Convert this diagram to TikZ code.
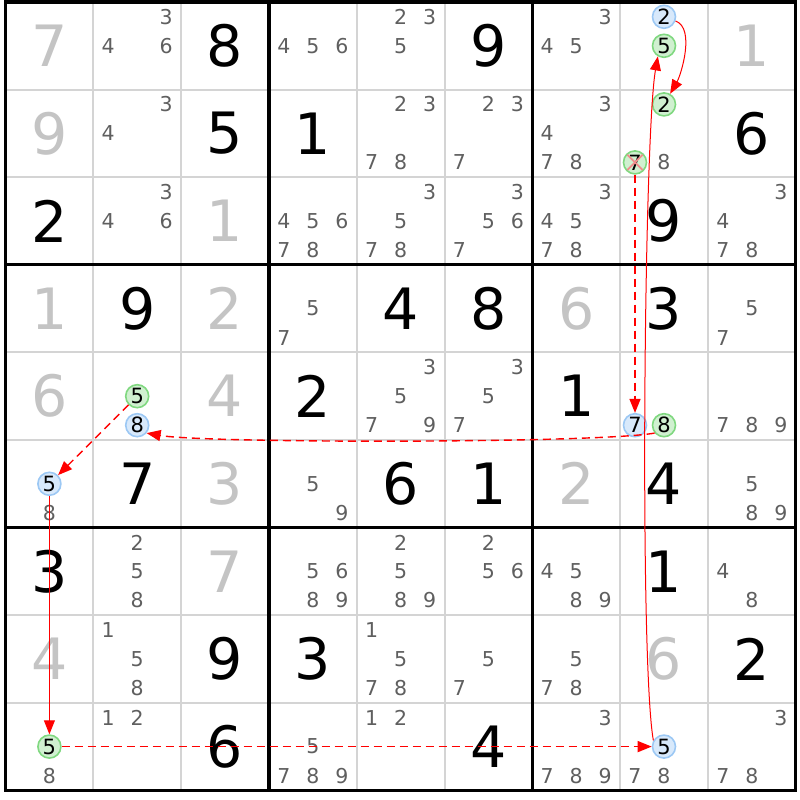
\documentclass[tikz,border=0pt]{standalone}
\usepackage{fontspec}
\setmainfont{DejaVu Sans}
\usetikzlibrary{arrows.meta}

\definecolor{candgray}{HTML}{5F5F5F}
\definecolor{solvedgray}{HTML}{C4C4C4}
\definecolor{gridgray}{HTML}{D4D4D4}
\definecolor{ringgreen}{HTML}{80D880}
\definecolor{fillgreen}{HTML}{D0F0D0}
\definecolor{ringblue}{HTML}{9CC8F4}
\definecolor{fillblue}{HTML}{D8E9FB}
\definecolor{crossred}{HTML}{F08C8C}

% cell centres, in px of the 800x800 sheet (y up)
\newcommand{\cellX}[1]{5.5+(#1-0.5)*87.8}
\newcommand{\cellY}[1]{798-(#1-0.5)*87.6}

\begin{document}
\begin{tikzpicture}[x=1pt,y=1pt,
    given/.style={font=\fontsize{57}{60}\selectfont,inner sep=0pt},
    solved/.style={given,text=solvedgray},
    cand/.style={font=\fontsize{20.5}{24}\selectfont,inner sep=0pt,text=candgray},
    ring/.style={circle,draw=ring#1,fill=fill#1,line width=1.6pt,inner sep=0pt,
                 minimum size=23pt,font=\fontsize{21}{24}\selectfont},
    thinrule/.style={gridgray,line width=2pt},
    boxrule/.style={black,line width=3.2pt},
    link/.style={red,line width=1pt,-{Triangle[length=14pt,width=11pt]}},
    weak/.style={red,line width=1.4pt,dash pattern=on 8pt off 5pt,
                 -{Triangle[length=14pt,width=11pt]}},
    cross/.style={crossred,line width=1.8pt,shorten >=1.5pt,shorten <=1.5pt}]

  \useasboundingbox (0,0) rectangle (800,800);

  % grid
  \foreach \i in {1,2,4,5,7,8} {
    \draw[thinrule] ({5.5+\i*87.8},798) -- ({5.5+\i*87.8},9.6);
    \draw[thinrule] (5.5,{798-\i*87.6}) -- (795.7,{798-\i*87.6});
  }
  \foreach \i in {0,3,6,9} {
    \draw[boxrule] ({5.5+\i*87.8},799.6) -- ({5.5+\i*87.8},8);
    \draw[boxrule] (4,{798-\i*87.6}) -- (797.3,{798-\i*87.6});
  }

  % clues and placed digits
  \foreach \r/\c/\d in {1/3/8, 1/6/9, 2/3/5, 2/4/1, 2/9/6, 3/1/2, 3/8/9, 4/2/9,
                        4/5/4, 4/6/8, 4/8/3, 5/4/2, 5/7/1, 6/2/7, 6/5/6, 6/6/1,
                        6/8/4, 7/1/3, 7/8/1, 8/3/9, 8/4/3, 8/9/2, 9/3/6, 9/6/4}
    \node[given] (cell-\r\c) at ({\cellX{\c}},{\cellY{\r}}) {\d};
  \foreach \r/\c/\d in {1/1/7, 1/9/1, 2/1/9, 3/3/1, 4/1/1, 4/3/2, 4/7/6, 5/1/6,
                        5/3/4, 6/3/3, 6/7/2, 7/3/7, 8/1/4, 8/8/6}
    \node[solved] (cell-\r\c) at ({\cellX{\c}},{\cellY{\r}}) {\d};

  % pencil marks
  \foreach \r/\c/\ds in {1/2/{3,4,6}, 1/4/{4,5,6}, 1/5/{2,3,5}, 1/7/{3,4,5},
      2/2/{3,4}, 2/5/{2,3,7,8}, 2/6/{2,3,7}, 2/7/{3,4,7,8}, 2/8/{8},
      3/2/{3,4,6}, 3/4/{4,5,6,7,8}, 3/5/{3,5,7,8}, 3/6/{3,5,6,7},
      3/7/{3,4,5,7,8}, 3/9/{3,4,7,8}, 4/4/{5,7}, 4/9/{5,7},
      5/5/{3,5,7,9}, 5/6/{3,5,7}, 5/9/{7,8,9}, 6/1/{8}, 6/4/{5,9}, 6/9/{5,8,9},
      7/2/{2,5,8}, 7/4/{5,6,8,9}, 7/5/{2,5,8,9}, 7/6/{2,5,6}, 7/7/{4,5,8,9},
      7/9/{4,8}, 8/2/{1,5,8}, 8/5/{1,5,7,8}, 8/6/{5,7}, 8/7/{5,7,8},
      9/1/{8}, 9/2/{1,2}, 9/4/{5,7,8,9}, 9/5/{1,2}, 9/7/{3,7,8,9},
      9/8/{7,8}, 9/9/{3,7,8}}
    \foreach \d in \ds {
      \pgfmathsetmacro\px{\cellX{\c}+(mod(\d-1,3)-1)*29}
      \pgfmathsetmacro\py{\cellY{\r}-(int((\d-1)/3)-1)*29}
      \node[cand] (cand-\r\c-\d) at (\px,\py) {\d};
    }

  % highlighted candidates
  \foreach \r/\c/\d/\col in {1/8/2/blue, 1/8/5/green, 2/8/2/green, 2/8/7/green,
                             5/2/5/green, 5/2/8/blue, 5/8/7/blue, 5/8/8/green,
                             6/1/5/blue, 9/1/5/green, 9/8/5/blue} {
    \pgfmathsetmacro\px{\cellX{\c}+(mod(\d-1,3)-1)*29}
    \pgfmathsetmacro\py{\cellY{\r}-(int((\d-1)/3)-1)*29}
    \node[ring=\col] (cand-\r\c-\d) at (\px,\py) {\d};
  }
  \draw[cross] (cand-28-7.135) -- (cand-28-7.-45);
  \draw[cross] (cand-28-7.45) -- (cand-28-7.-135);

  % chain
  \draw[link] (cand-18-2) to[out=-20,in=60,looseness=0.75] (cand-28-2);
  \draw[weak] (cand-28-7) -- (cand-58-7);
  \draw[weak] (cand-58-8.-140) to[out=190,in=-10,looseness=0.3] (cand-52-8.-40);
  \draw[weak] (cand-52-5) -- (cand-61-5);
  \draw[link] (cand-61-5) -- (cand-91-5);
  \draw[weak] (cand-91-5) -- (cand-98-5);
  \draw[link] (cand-98-5.150) to[out=100,in=-100,looseness=0.3] (cand-18-5.-120);
\end{tikzpicture}
\end{document}
